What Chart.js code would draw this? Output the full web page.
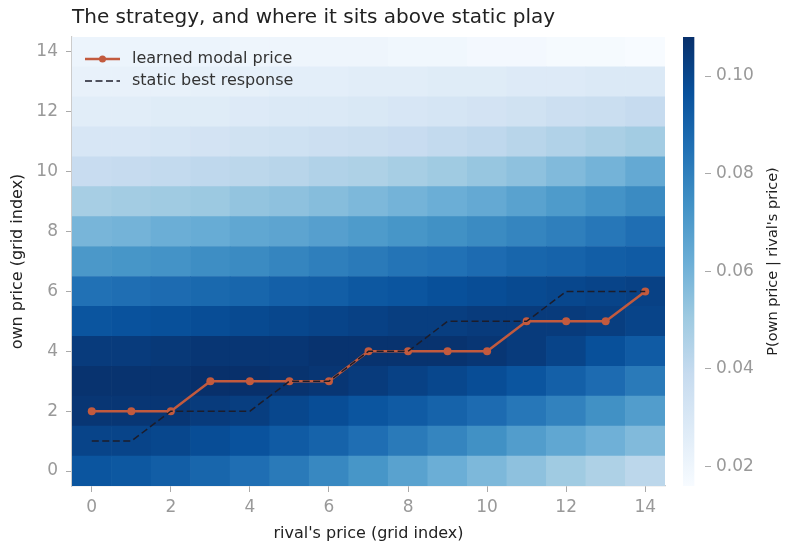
<!DOCTYPE html>
<html>
<head>
<meta charset="utf-8">
<script src="https://cdn.jsdelivr.net/npm/chart.js@4.4.1/dist/chart.umd.min.js"></script>
<style>
html,body{margin:0;padding:0;background:#fff;}
#wrap{position:relative;width:790px;height:547px;}
#main{position:absolute;left:0;top:0;width:680px;height:547px;}
#side{position:absolute;left:670px;top:0;width:120px;height:547px;}
</style>
</head>
<body>
<div id="wrap">
  <div id="main"><canvas id="heat"></canvas></div>
  <div id="side"><canvas id="cbar"></canvas></div>
</div>
<script>
// grid indices
const rivalPrice = [0,1,2,3,4,5,6,7,8,9,10,11,12,13,14];
const ownPrice = [0,1,2,3,4,5,6,7,8,9,10,11,12,13,14];

// P(own | rival), one row per own price, columns = rival price
const probRows = [
  [0.095,0.094,0.092,0.089,0.086,0.082,0.077,0.072,0.067,0.062,0.058,0.054,0.050,0.046,0.042],
  [0.101,0.101,0.100,0.098,0.096,0.093,0.090,0.086,0.082,0.078,0.074,0.069,0.065,0.061,0.057],
  [0.106,0.106,0.106,0.104,0.103,0.100,0.098,0.095,0.093,0.090,0.087,0.083,0.079,0.074,0.069],
  [0.107,0.107,0.107,0.108,0.108,0.107,0.106,0.104,0.102,0.100,0.098,0.095,0.091,0.087,0.082],
  [0.104,0.104,0.105,0.106,0.106,0.106,0.107,0.107,0.107,0.107,0.106,0.104,0.101,0.097,0.093],
  [0.095,0.096,0.097,0.098,0.099,0.100,0.101,0.102,0.103,0.103,0.104,0.104,0.104,0.103,0.101],
  [0.085,0.086,0.087,0.088,0.089,0.091,0.092,0.094,0.095,0.097,0.098,0.099,0.100,0.101,0.102],
  [0.071,0.072,0.073,0.075,0.076,0.078,0.080,0.082,0.084,0.085,0.087,0.089,0.090,0.092,0.093],
  [0.059,0.060,0.062,0.063,0.065,0.066,0.068,0.070,0.072,0.074,0.076,0.078,0.080,0.083,0.086],
  [0.048,0.049,0.050,0.051,0.053,0.054,0.056,0.058,0.060,0.062,0.064,0.067,0.070,0.073,0.076],
  [0.038,0.039,0.040,0.041,0.042,0.043,0.045,0.046,0.048,0.050,0.052,0.054,0.057,0.060,0.064],
  [0.031,0.031,0.032,0.033,0.034,0.035,0.036,0.037,0.038,0.040,0.041,0.043,0.045,0.047,0.049],
  [0.026,0.026,0.027,0.027,0.028,0.029,0.029,0.030,0.031,0.032,0.033,0.034,0.036,0.037,0.039],
  [0.023,0.023,0.023,0.024,0.024,0.025,0.025,0.026,0.026,0.027,0.027,0.028,0.028,0.029,0.029],
  [0.021,0.021,0.021,0.021,0.020,0.020,0.020,0.020,0.019,0.019,0.018,0.018,0.017,0.017,0.016]
];

const modalPrice = [2,2,2,3,3,3,3,4,4,4,4,5,5,5,6];
const staticBest = [1,1,2,2,2,3,3,4,4,5,5,5,6,6,6];

const xTicks = [0,2,4,6,8,10,12,14];
const yTicks = [0,2,4,6,8,10,12,14];
const cbTicks = [0.02,0.04,0.06,0.08,0.10];
const cbMin = 0.016;
const cbMax = 0.108;

// matplotlib "Blues"
const blues = [[247,251,255],[222,235,247],[198,219,239],[158,202,225],[107,174,214],
               [66,146,198],[33,113,181],[8,81,156],[8,48,107]];

function blueFor(v){
  let t = (v - cbMin) / (cbMax - cbMin);
  t = Math.max(0, Math.min(1, t)) * (blues.length - 1);
  const i = Math.min(Math.floor(t), blues.length - 2);
  const f = t - i;
  const a = blues[i], b = blues[i+1];
  const c = a.map((q,k) => Math.round(q + (b[k]-q)*f));
  return 'rgb(' + c.join(',') + ')';
}

Chart.defaults.font.family = "'DejaVu Sans', sans-serif";
Chart.defaults.color = '#999';

const TICK = '#999';
const INK = '#222';
const LINE = '#c25a3e';
const DASH = '#1c1c2a';

const heatSets = ownPrice.map((r, ri) => ({
  type: 'bar',
  data: rivalPrice.map(c => ({x: c, y: [r - 0.5, r + 0.5]})),
  backgroundColor: probRows[ri].map(blueFor),
  borderWidth: 0,
  grouped: false,
  barPercentage: 1,
  categoryPercentage: 1,
  order: 5
}));

const titlePlugin = {
  id: 'topTitle',
  afterDraw(chart){
    const {ctx, chartArea} = chart;
    ctx.save();
    ctx.font = "20px 'DejaVu Sans'";
    ctx.fillStyle = INK;
    ctx.textBaseline = 'middle';
    ctx.textAlign = 'left';
    ctx.fillText('The strategy, and where it sits above static play', chartArea.left, 18);
    ctx.restore();
  }
};

const legendPlugin = {
  id: 'inLegend',
  afterDraw(chart){
    const {ctx, chartArea} = chart;
    const x0 = chartArea.left + 13, x1 = chartArea.left + 48;
    const y1 = chartArea.top + 22, y2 = chartArea.top + 44;
    ctx.save();
    ctx.strokeStyle = LINE; ctx.lineWidth = 2.5;
    ctx.beginPath(); ctx.moveTo(x0, y1); ctx.lineTo(x1, y1); ctx.stroke();
    ctx.fillStyle = LINE;
    ctx.beginPath(); ctx.arc((x0+x1)/2, y1, 3.5, 0, Math.PI*2); ctx.fill();
    ctx.strokeStyle = DASH; ctx.lineWidth = 1.5; ctx.setLineDash([7,3.5]);
    ctx.beginPath(); ctx.moveTo(x0, y2); ctx.lineTo(x1, y2); ctx.stroke();
    ctx.setLineDash([]);
    ctx.font = "16px 'DejaVu Sans'";
    ctx.fillStyle = '#333';
    ctx.textBaseline = 'middle';
    ctx.fillText('learned modal price', chartArea.left + 60, y1);
    ctx.fillText('static best response', chartArea.left + 60, y2);
    ctx.restore();
  }
};

new Chart(document.getElementById('heat'), {
  type: 'bar',
  data: {
    datasets: heatSets.concat([
      {
        type: 'line',
        label: 'learned modal price',
        data: rivalPrice.map((c, i) => ({x: c, y: modalPrice[i]})),
        borderColor: LINE,
        backgroundColor: LINE,
        borderWidth: 2.5,
        pointRadius: 4,
        pointBorderWidth: 0,
        order: 1
      },
      {
        type: 'line',
        label: 'static best response',
        data: rivalPrice.map((c, i) => ({x: c, y: staticBest[i]})),
        borderColor: DASH,
        borderWidth: 1.5,
        borderDash: [7, 3.5],
        pointRadius: 0,
        order: 0
      }
    ])
  },
  options: {
    responsive: true,
    maintainAspectRatio: false,
    animation: false,
    layout: {padding: {top: 37, right: 15, left: 0, bottom: 0}},
    plugins: {legend: {display: false}, tooltip: {enabled: false}},
    scales: {
      x: {
        type: 'linear',
        min: -0.5, max: 14.5,
        offset: false,
        afterBuildTicks: s => { s.ticks = xTicks.map(v => ({value: v})); },
        afterFit: s => { s.height = 61; },
        ticks: {color: TICK, font: {size: 17}, padding: 5},
        grid: {drawOnChartArea: false, offset: false, tickLength: 6, tickColor: '#aaa'},
        border: {display: true, color: '#ccc', width: 1.2},
        title: {display: true, text: "rival's price (grid index)", color: INK, font: {size: 16}, padding: {top: 0, bottom: 4}}
      },
      y: {
        type: 'linear',
        min: -0.5, max: 14.5,
        afterBuildTicks: s => { s.ticks = yTicks.map(v => ({value: v})); },
        afterFit: s => { s.width = 72; },
        ticks: {color: TICK, font: {size: 17}, padding: 8},
        grid: {drawOnChartArea: false, tickLength: 6, tickColor: '#aaa'},
        border: {display: true, color: '#ccc', width: 1.2},
        title: {display: true, text: 'own price (grid index)', color: INK, font: {size: 16}, padding: {top: 8, bottom: 0}}
      }
    }
  },
  plugins: [titlePlugin, legendPlugin]
});

const cbLabelPlugin = {
  id: 'cbLabel',
  afterDraw(chart){
    const {ctx, chartArea} = chart;
    ctx.save();
    ctx.translate(103, (chartArea.top + chartArea.bottom) / 2);
    ctx.rotate(-Math.PI / 2);
    ctx.font = "14.5px 'DejaVu Sans'";
    ctx.fillStyle = INK;
    ctx.textAlign = 'center';
    ctx.textBaseline = 'middle';
    ctx.fillText("P(own price | rival's price)", 0, 0);
    ctx.restore();
  }
};

new Chart(document.getElementById('cbar'), {
  type: 'bar',
  data: {
    labels: ['cb'],
    datasets: [{
      data: [[cbMin, cbMax]],
      backgroundColor: ctx => {
        const chart = ctx.chart;
        const ys = chart.scales.y;
        if (!chart.chartArea || !ys) return blueFor(cbMin);
        const g = chart.ctx.createLinearGradient(0, ys.getPixelForValue(cbMin), 0, ys.getPixelForValue(cbMax));
        blues.forEach((c, i) => g.addColorStop(i / (blues.length - 1), 'rgb(' + c.join(',') + ')'));
        return g;
      },
      borderWidth: 0,
      barPercentage: 1,
      categoryPercentage: 1
    }]
  },
  options: {
    responsive: true,
    maintainAspectRatio: false,
    animation: false,
    layout: {padding: {top: 37, left: 13, bottom: 61, right: 0}},
    plugins: {legend: {display: false}, tooltip: {enabled: false}},
    scales: {
      x: {display: false, offset: false},
      y: {
        position: 'right',
        min: cbMin, max: cbMax,
        afterBuildTicks: s => { s.ticks = cbTicks.map(v => ({value: v})); },
        afterFit: s => { s.width = 85; },
        ticks: {color: TICK, font: {size: 17}, padding: 5, callback: v => Number(v).toFixed(2)},
        grid: {drawOnChartArea: false, tickLength: 6, tickColor: '#aaa'},
        border: {display: false}
      }
    }
  },
  plugins: [cbLabelPlugin]
});
</script>
</body>
</html>
